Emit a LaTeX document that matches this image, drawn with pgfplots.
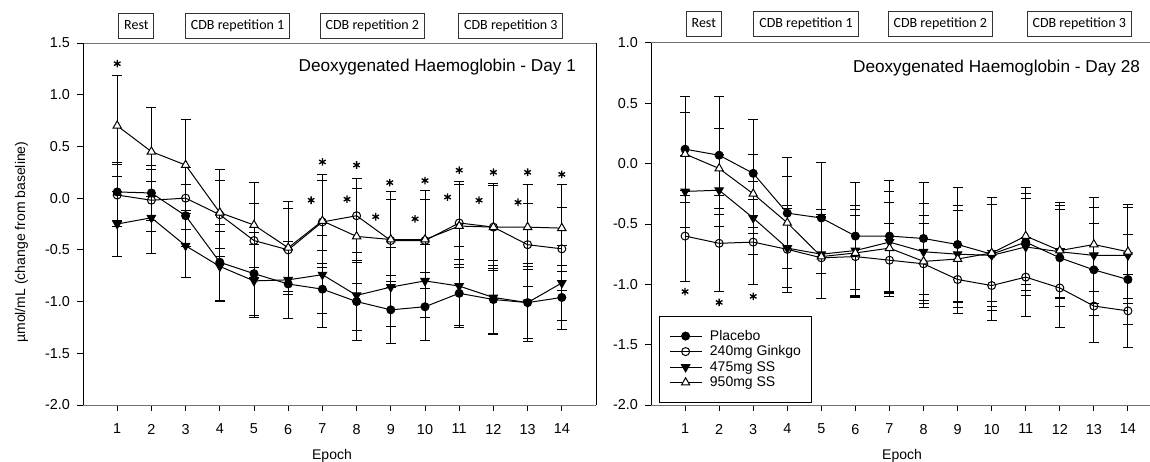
\documentclass[border=0pt]{standalone}
\usepackage{pgfplots}
\pgfplotsset{compat=1.18}
\usepackage{pgfplotstable}
\usepackage{fontspec}
\setmainfont{Liberation Sans}
\newfontfamily\carlito{Carlito}

\pgfplotstableread{
x   pl    epl   gk    egk   ls    els   hs    ehs
1   0.06  0.28  0.03  0.30  -0.25 0.31  0.70  0.49
2   0.05  0.27  -0.02 0.30  -0.19 0.35  0.45  0.43
3   -0.17 0.30  0.00  0.30  -0.46 0.31  0.32  0.44
4   -0.62 0.37  -0.16 0.33  -0.66 0.34  -0.14 0.42
5   -0.73 0.40  -0.41 0.36  -0.80 0.35  -0.26 0.41
6   -0.83 0.33  -0.50 0.40  -0.79 0.37  -0.48 0.45
7   -0.88 0.37  -0.23 0.40  -0.74 0.38  -0.22 0.45
8   -1.00 0.38  -0.17 0.36  -0.94 0.34  -0.37 0.46
9   -1.08 0.33  -0.41 0.40  -0.86 0.38  -0.40 0.46
10  -1.05 0.33  -0.41 0.40  -0.80 0.35  -0.40 0.47
11  -0.92 0.33  -0.24 0.40  -0.85 0.38  -0.27 0.40
12  -0.98 0.33  -0.28 0.40  -0.96 0.36  -0.28 0.42
13  -1.01 0.38  -0.45 0.40  -1.01 0.35  -0.28 0.41
14  -0.96 0.31  -0.49 0.40  -0.82 0.36  -0.29 0.42
}\dayone

\pgfplotstableread{
x   pl    epl   gk    egk   ls    els   hs    ehs
1   0.12  0.44  -0.60 0.38  -0.23 0.30  0.08  0.34
2   0.07  0.49  -0.66 0.40  -0.22 0.30  -0.04 0.33
3   -0.08 0.45  -0.65 0.35  -0.45 0.30  -0.25 0.33
4   -0.41 0.46  -0.71 0.36  -0.70 0.33  -0.49 0.38
5   -0.45 0.46  -0.78 0.34  -0.75 0.37  -0.77 0.35
6   -0.60 0.445 -0.77 0.34  -0.72 0.37  -0.74 0.36
7   -0.60 0.46  -0.80 0.30  -0.65 0.42  -0.70 0.38
8   -0.62 0.465 -0.83 0.33  -0.73 0.40  -0.81 0.38
9   -0.67 0.47  -0.96 0.28  -0.75 0.40  -0.79 0.40
10  -0.75 0.47  -1.01 0.29  -0.76 0.42  -0.74 0.40
11  -0.65 0.40  -0.94 0.33  -0.69 0.40  -0.60 0.40
12  -0.78 0.40  -1.03 0.33  -0.73 0.38  -0.72 0.40
13  -0.88 0.38  -1.18 0.30  -0.76 0.40  -0.67 0.39
14  -0.96 0.37  -1.22 0.30  -0.76 0.40  -0.73 0.39
}\daytwentyeight

\tikzset{
  hdr/.style={draw=black!80, line width=0.5pt, font=\carlito\fontsize{7}{8}\selectfont,
    minimum height=12.5pt, inner xsep=2.7pt, inner ysep=0pt, text height=5pt, text depth=1.4pt},
}

\pgfplotsset{
  myax/.style={
    scale only axis, height=181pt,
    xmin=0, xmax=15, ymin=-2,
    xtick={1,...,14},
    tick align=outside, xtick pos=left, ytick pos=left,
    major tick length=3pt,
    tick style={black, line width=0.5pt},
    ticklabel style={font=\fontsize{7.2}{8}\selectfont},
    xticklabel style={yshift=-3pt},
    /pgf/number format/assume math mode=true,
    yticklabel style={/pgf/number format/.cd, fixed, fixed zerofill, precision=1},
    separate axis lines,
    x axis line style={black!55, line width=0.5pt},
    y axis line style={black, line width=0.5pt},
    clip=false,
    cycle list={{black, line width=0.5pt}},
    error bars/error bar style={black, line width=0.5pt},
    error bars/error mark options={black, rotate=90, mark size=2.5pt, line width=0.5pt},
  },
  spl/.style={black, line width=0.5pt, mark=*, mark size=2pt, mark options={fill=black, draw=black}},
  sgk/.style={black, line width=0.5pt, mark=o, mark size=2pt, mark options={fill=white, draw=black}},
  sls/.style={black, line width=0.5pt, mark=triangle*, mark size=2.4pt, mark options={rotate=180, fill=black, draw=black}},
  shs/.style={black, line width=0.5pt, mark=triangle*, mark size=2.4pt, mark options={fill=white, draw=black}},
  eb/.style={error bars/.cd, y dir=both, y explicit},
  asterisks/.style={black, only marks, mark=asterisk, mark size=1.9pt, mark options={line width=0.65pt}},
}

\begin{document}
\begin{tikzpicture}
\path[use as bounding box] (0,0) rectangle (575pt,230.5pt);

% ---------------- Day 1 ----------------
\begin{axis}[myax, width=256.5pt, ymax=1.5, ytick={-2,-1.5,...,1.5},
  at={(41.5pt,28pt)}, anchor=south west]
\addplot[spl, eb] table[x=x, y=pl, y error=epl] {\dayone};
\addplot[sgk, eb] table[x=x, y=gk, y error=egk] {\dayone};
\addplot[sls, eb] table[x=x, y=ls, y error=els] {\dayone};
\addplot[shs, eb] table[x=x, y=hs, y error=ehs] {\dayone};
\addplot[asterisks] coordinates {
 (1,1.30) (6.67,-0.02) (7,0.35) (7.72,-0.01) (8,0.32) (8.56,-0.18) (8.97,0.15)
 (9.71,-0.20) (10,0.17) (10.66,0.01) (11,0.27) (11.58,-0.02) (12,0.25)
 (12.72,-0.04) (13,0.25) (14,0.23)};
\node[anchor=base east, font=\fontsize{8.6}{10}\selectfont, xshift=-6.5pt, yshift=-14.4pt]
  at (rel axis cs:1,1) {Deoxygenated Haemoglobin - Day 1};
\node[hdr, yshift=8.75pt] at (axis cs:1.56,1.5) {Rest};
\node[hdr, yshift=8.75pt] at (axis cs:4.52,1.5) {CDB repetition 1};
\node[hdr, yshift=8.75pt] at (axis cs:8.46,1.5) {CDB repetition 2};
\node[hdr, yshift=8.75pt] at (axis cs:12.51,1.5) {CDB repetition 3};
\node[rotate=90, anchor=center, font=\fontsize{7}{8}\selectfont]
  at ([xshift=-30.7pt]rel axis cs:0,0.45) {µmol/mL (change from baseline)};
\node[anchor=base, font=\fontsize{7}{8}\selectfont, yshift=-27.2pt]
  at (axis cs:7.28,-2) {Epoch};
\end{axis}

% ---------------- Day 28 ----------------
\begin{axis}[myax, width=255.5pt, ymax=1.0, ytick={-2,-1.5,...,1},
  at={(325.5pt,28pt)}, anchor=south west,
  legend style={at={(rel axis cs:0.0157,0.006)}, anchor=south west,
    draw=black, line width=0.5pt, font=\fontsize{7}{8}\selectfont,
    inner xsep=4.8pt, inner ysep=6pt, row sep=0pt, column sep=3.3pt,
    nodes={inner sep=0.6pt, text height=5.3pt, text depth=1.25pt}},
  legend cell align=left,
  legend image code/.code={\draw[mark repeat=2, mark phase=2] plot coordinates {(0pt,0pt) (8pt,0pt) (16pt,0pt)};}]
\addplot[spl, eb] table[x=x, y=pl, y error=epl] {\daytwentyeight};
\addlegendentry{Placebo}
\addplot[sgk, eb] table[x=x, y=gk, y error=egk] {\daytwentyeight};
\addlegendentry{240mg Ginkgo}
\addplot[sls, eb] table[x=x, y=ls, y error=els] {\daytwentyeight};
\addlegendentry{475mg SS}
\addplot[shs, eb] table[x=x, y=hs, y error=ehs] {\daytwentyeight};
\addlegendentry{950mg SS}
\addplot[asterisks, forget plot] coordinates {(1,-1.06) (2,-1.15) (3,-1.10)};
\node[anchor=base east, font=\fontsize{8.6}{10}\selectfont, xshift=-7.5pt, yshift=-14.8pt]
  at (rel axis cs:1,1) {Deoxygenated Haemoglobin - Day 28};
\node[hdr, yshift=9.5pt] at (axis cs:1.55,1.0) {Rest};
\node[hdr, yshift=9.5pt] at (axis cs:4.55,1.0) {CDB repetition 1};
\node[hdr, yshift=9.5pt] at (axis cs:8.49,1.0) {CDB repetition 2};
\node[hdr, yshift=9.5pt] at (axis cs:12.57,1.0) {CDB repetition 3};
\node[anchor=base, font=\fontsize{7}{8}\selectfont, yshift=-27.2pt]
  at (axis cs:7.37,-2) {Epoch};
\end{axis}
\end{tikzpicture}
\end{document}
